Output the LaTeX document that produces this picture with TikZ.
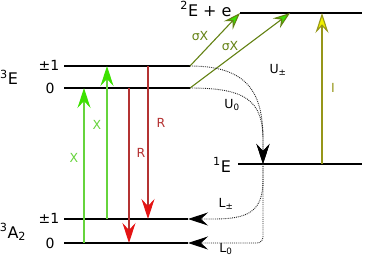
\documentclass[tikz,border=0pt]{standalone}
\usepackage{fontspec}
\setmainfont{DejaVu Sans}
\usepackage{tikz}
\usetikzlibrary{arrows.meta, positioning}

\definecolor{xline}{RGB}{102,212,60}
\definecolor{xhead}{RGB}{60,225,0}
\definecolor{rline}{RGB}{180,50,50}
\definecolor{rhead}{RGB}{228,20,20}
\definecolor{sline}{RGB}{100,130,20}
\definecolor{iline}{RGB}{150,150,25}
\definecolor{ihead}{RGB}{240,240,0}

\tikzset{
  lvl/.style={line width=1.8pt},
  bigtxt/.style={font=\fontsize{16}{18}\selectfont},
  midtxt/.style={font=\fontsize{14}{16}\selectfont},
  smalltxt/.style={font=\fontsize{12.5}{14}\selectfont},
  xarr/.style={xline, line width=1.1pt,
    -{Stealth[length=20pt,width=13pt,inset=7pt,fill=xhead,color=xhead]}},
  rarr/.style={rline, line width=1.1pt,
    -{Stealth[length=20pt,width=13pt,inset=7pt,fill=rhead,color=rhead]}},
  sarr/.style={sline, line width=1.1pt,
    -{Stealth[length=17pt,width=12pt,inset=6pt,fill=xhead,color=sline]}},
  iarr/.style={iline, line width=1.1pt,
    -{Stealth[length=20pt,width=13pt,inset=7pt,fill=ihead,color=iline]}},
  darr/.style={black!85, line width=0.9pt, densely dotted,
    -{Stealth[length=20pt,width=13pt,inset=7pt,fill=black,color=black]}}
}

\begin{document}
\begin{tikzpicture}[x=1pt,y=-1pt,>=Stealth]
  \useasboundingbox (0,0) rectangle (374,257);
  % levels
  \coordinate (E1l) at (64,66);   \coordinate (E1r) at (190,66);
  \coordinate (E0l) at (64,88);   \coordinate (E0r) at (190,88);
  \coordinate (A1l) at (64,219);  \coordinate (A1r) at (188,219);
  \coordinate (A0l) at (64,243);  \coordinate (A0r) at (188,243);
  \coordinate (Sl) at (238,164);  \coordinate (Sr) at (362,164);
  \coordinate (Cl) at (240,13);   \coordinate (Cr) at (362,13);
  \foreach \a/\b in {E1l/E1r,E0l/E0r,A1l/A1r,A0l/A0r,Sl/Sr,Cl/Cr}
    \draw[lvl] (\a) -- (\b);
  % level names
  \node[bigtxt] (nE) at (9,77) {\textsuperscript{3}E};
  \node[bigtxt] (nA) at (13,232) {\textsuperscript{3}A\textsubscript{2}};
  \node[bigtxt] (nS) at (222,165) {\textsuperscript{1}E};
  \node[bigtxt] (nC) at (206,9) {\textsuperscript{2}E + e};
  \node[midtxt] (nE1) at (49,65) {±1};
  \node[midtxt] (nE0) at (50,88) {0};
  \node[midtxt] (nA1) at (49,218) {±1};
  \node[midtxt] (nA0) at (50,243) {0};
  % excitation X
  \coordinate (xa0) at (84,243);  \coordinate (xe0) at (84,88);
  \coordinate (xa1) at (107,219); \coordinate (xe1) at (107,66);
  \draw[xarr] (xa0) -- (xe0);
  \draw[xarr] (xa1) -- (xe1);
  \node[smalltxt,xline] (lx0) at (74,158) {X};
  \node[smalltxt,xline] (lx1) at (97,125) {X};
  % emission R
  \coordinate (re0) at (129,88);  \coordinate (ra0) at (129,243);
  \coordinate (re1) at (148,66);  \coordinate (ra1) at (148,219);
  \draw[rarr] (re0) -- (ra0);
  \draw[rarr] (re1) -- (ra1);
  \node[smalltxt,rline] (lr0) at (141,153) {R};
  \node[smalltxt,rline] (lr1) at (161,123) {R};
  % ionisation sigma X
  \coordinate (sc1) at (290,13);
  \draw[sarr] (E1r) -- (Cl);
  \draw[sarr] (E0r) -- (sc1);
  \node[smalltxt,sline] (ls1) at (200,36) {σX};
  \node[smalltxt,sline] (ls0) at (230,46) {σX};
  % repump I
  \coordinate (is) at (322,164); \coordinate (ic) at (322,13);
  \draw[iarr] (is) -- (ic);
  \node[smalltxt,iline] (li) at (333,88) {I};
  % intersystem crossing
  \coordinate (sin) at (263,164);
  \draw[darr] (E1r) .. controls (250,66) and (263,95) .. (263,140) -- (sin);
  \draw[darr] (E0r) .. controls (245,88) and (263,100) .. (263,140) -- (sin);
  \node[smalltxt] (lu1) at (278,70) {U\textsubscript{±}};
  \node[smalltxt] (lu0) at (232,105) {U\textsubscript{0}};
  \draw[darr] (sin) -- (263,180) .. controls (263,212) and (248,219) .. (213,219) -- (A1r);
  \draw[darr,rounded corners=6pt] (sin) |- (A0r);
  \node[smalltxt] (ll1) at (226,204) {L\textsubscript{±}};
  \node[smalltxt] (ll0) at (226,249) {L\textsubscript{0}};
\end{tikzpicture}
\end{document}
